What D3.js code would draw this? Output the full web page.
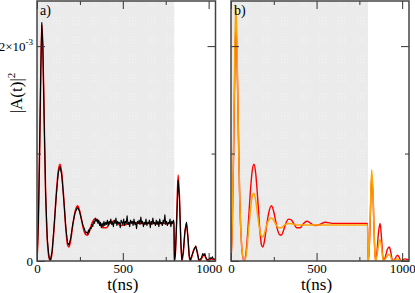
<!DOCTYPE html>
<html>
<head>
<meta charset="utf-8">
<script src="https://cdn.jsdelivr.net/npm/d3@7"></script>
<style>
  body { margin: 0; background: #fff; }
  svg text { font-family: "Liberation Serif", "Times New Roman", "DejaVu Serif", serif; }
</style>
</head>
<body>
<div id="chart"></div>
<script>
// chart values (amplitudes in units of 1e-3)
var tRed = [0, 8, 16, 22, 28, 34, 42, 50, 60, 70, 78, 88, 100, 112, 124, 134, 144, 156, 168, 178, 186, 196, 208, 222, 236, 248, 260, 272, 284, 294, 306, 320, 336, 350, 366, 384, 404, 424, 444, 466, 490, 520, 550, 600, 650, 700, 750, 798, 801, 806, 813, 822, 830, 838, 844, 852, 862, 871, 880, 887, 893, 902, 914, 925, 935, 942, 948, 958, 972, 984, 993, 1002, 1015, 1028, 1040];
var aRed = [0, 0.35, 1.1, 1.75, 2.2, 2.0, 1.3, 0.65, 0.2, 0.03, 0.0, 0.08, 0.32, 0.62, 0.84, 0.9, 0.82, 0.58, 0.3, 0.15, 0.13, 0.19, 0.33, 0.46, 0.515, 0.47, 0.38, 0.29, 0.245, 0.24, 0.28, 0.35, 0.39, 0.385, 0.35, 0.31, 0.31, 0.35, 0.37, 0.35, 0.33, 0.34, 0.36, 0.35, 0.35, 0.35, 0.35, 0.35, 0.0, 0.06, 0.35, 0.8, 0.6, 0.18, 0.0, 0.07, 0.27, 0.35, 0.2, 0.04, 0.0, 0.04, 0.11, 0.13, 0.07, 0.01, 0.0, 0.02, 0.055, 0.03, 0.0, 0.005, 0.02, 0.015, 0.01];

var tBlackHead = [0, 8, 16, 22, 28, 34, 42, 50, 60, 70, 78, 88, 100, 112, 124, 134, 144, 156, 168, 178, 186, 196, 208, 222, 236, 248, 260, 268, 276, 284, 290, 296];
var aBlackHead = [0, 0.37, 1.12, 1.78, 2.22, 2.0, 1.3, 0.64, 0.2, 0.04, 0.01, 0.09, 0.33, 0.6, 0.82, 0.88, 0.8, 0.57, 0.31, 0.17, 0.15, 0.21, 0.34, 0.45, 0.5, 0.46, 0.38, 0.33, 0.3, 0.26, 0.27, 0.25];
// noisy plateau, one value every 5 ns from 300 to 795
var aBlackNoise = [0.29, 0.27, 0.31, 0.3, 0.34, 0.32, 0.37, 0.35, 0.4, 0.37, 0.39, 0.35, 0.38, 0.33, 0.36, 0.31, 0.35, 0.32, 0.37, 0.33, 0.36, 0.34, 0.38, 0.33, 0.37, 0.35, 0.39, 0.34, 0.36, 0.32, 0.38, 0.35, 0.4, 0.33, 0.37, 0.35, 0.36, 0.31, 0.38, 0.36, 0.34, 0.39, 0.33, 0.37, 0.35, 0.42, 0.34, 0.36, 0.32, 0.38, 0.35, 0.37, 0.33, 0.39, 0.34, 0.36, 0.3, 0.37, 0.35, 0.38, 0.34, 0.41, 0.35, 0.37, 0.32, 0.36, 0.34, 0.39, 0.33, 0.36, 0.35, 0.38, 0.31, 0.37, 0.34, 0.4, 0.35, 0.36, 0.33, 0.38, 0.34, 0.37, 0.32, 0.39, 0.35, 0.36, 0.33, 0.38, 0.35, 0.43, 0.34, 0.37, 0.33, 0.36, 0.35, 0.39, 0.32, 0.37, 0.35, 0.38];
var tBlackTail = [798, 800, 806, 813, 822, 830, 838, 844, 852, 862, 871, 880, 887, 893, 902, 914, 925, 935, 942, 948, 958, 966, 972, 978, 984, 993, 1002, 1010, 1015, 1022, 1028, 1040];
var aBlackTail = [0.36, 0.0, 0.06, 0.33, 0.75, 0.58, 0.17, 0.01, 0.08, 0.28, 0.36, 0.21, 0.05, 0.01, 0.05, 0.1, 0.14, 0.07, 0.02, 0.01, 0.03, 0.07, 0.05, 0.07, 0.03, 0.01, 0.02, 0.03, 0.02, 0.04, 0.015, 0.02];

var tOrange = [0, 8, 16, 22, 28, 34, 42, 50, 60, 70, 80, 90, 100, 112, 124, 134, 144, 156, 168, 178, 186, 196, 210, 224, 238, 252, 266, 280, 292, 306, 322, 340, 360, 390, 420, 460, 500, 600, 700, 798, 801, 806, 813, 822, 830, 838, 844, 852, 862, 871, 880, 887, 893, 902, 914, 925, 935, 942, 958, 972, 984, 993, 1040];
var aOrange = [0, 0.4, 1.2, 1.9, 2.38, 2.1, 1.3, 0.65, 0.2, 0.04, 0.0, 0.07, 0.24, 0.45, 0.6, 0.63, 0.57, 0.42, 0.29, 0.23, 0.225, 0.26, 0.34, 0.39, 0.4, 0.37, 0.33, 0.31, 0.31, 0.325, 0.345, 0.35, 0.345, 0.335, 0.335, 0.335, 0.335, 0.335, 0.335, 0.335, 0.0, 0.08, 0.4, 0.85, 0.62, 0.18, 0.0, 0.04, 0.15, 0.2, 0.12, 0.02, 0.0, 0.02, 0.05, 0.06, 0.03, 0.0, 0.01, 0.02, 0.01, 0.0, 0.0];

var xTicks = [0, 500, 1000];
var xMinor = [250, 750];
var shadeEnd = 800;

var serif = '"Liberation Serif", "Times New Roman", "DejaVu Serif", serif';

// build point lists
function pts(ts, as) { return ts.map((t, i) => [t, as[i]]); }
var black = pts(tBlackHead, aBlackHead)
    .concat(aBlackNoise.map((a, i) => [300 + 5 * i, a]))
    .concat(pts(tBlackTail, aBlackTail));
var red = pts(tRed, aRed);
var orange = pts(tOrange, aOrange);

var svgWdt = 415, svgHgt = 293;
var yTop = 1, yBot = 261;

var svg = d3.select("#chart").append("svg")
    .attr("width", svgWdt)
    .attr("height", svgHgt)
    .attr("font-family", serif);

// dotted texture of the shaded block
var defs = svg.append("defs");
var pat = defs.append("pattern")
    .attr("id", "dots")
    .attr("patternUnits", "userSpaceOnUse")
    .attr("x", 15.3).attr("y", 17.5)
    .attr("width", 19).attr("height", 19);
pat.append("rect").attr("width", 19).attr("height", 19).attr("fill", "#ebebeb");
[[0,0],[3,0],[6,0],[0,3],[3,3],[6,3],[0,6],[3,6],[6,6]].forEach(d => {
    pat.append("rect")
        .attr("x", d[0]).attr("y", d[1])
        .attr("width", 1).attr("height", 1)
        .attr("fill", "#fafafa");
});

var yScale = d3.scaleLinear().domain([0, 2.42]).range([yBot, yTop]);

var panels = [
    { left: 37, right: 215.5, label: "a)", series: [[red, "#ff0000", 1.5, true], [black, "#000", 1.1, false]], yLabels: true },
    { left: 231, right: 409, label: "b)", series: [[red, "#ff0000", 1.4, true], [orange, "#ffa500", 1.5, true]], yLabels: false }
];

panels.forEach((p, k) => {
    var xScale = d3.scaleLinear().domain([0, 1040]).range([p.left, p.right]);
    var g = svg.append("g");

    var cid = "clip" + k;
    defs.append("clipPath").attr("id", cid)
        .append("rect")
        .attr("x", p.left).attr("y", yTop)
        .attr("width", p.right - p.left).attr("height", yBot - yTop);

    // shaded region 0..800 ns
    g.append("rect")
        .attr("x", xScale(0)).attr("y", yTop)
        .attr("width", xScale(shadeEnd) - xScale(0))
        .attr("height", yBot - yTop)
        .attr("fill", "url(#dots)");

    // curves
    p.series.forEach(s => {
        var line = d3.line()
            .x(d => xScale(d[0]))
            .y(d => yScale(d[1]))
            .curve(s[3] ? d3.curveMonotoneX : d3.curveLinear);
        g.append("path")
            .datum(s[0])
            .attr("clip-path", `url(#${cid})`)
            .attr("fill", "none")
            .attr("stroke", s[1])
            .attr("stroke-width", s[2])
            .attr("stroke-linejoin", "round")
            .attr("d", line);
    });

    // axes with inward ticks
    g.append("g")
        .attr("transform", `translate(0, ${yBot})`)
        .call(d3.axisBottom(xScale).tickValues(xTicks).tickSize(-8).tickPadding(3).tickFormat(d3.format("d")));
    g.append("g")
        .attr("transform", `translate(0, ${yBot})`)
        .call(d3.axisBottom(xScale).tickValues(xMinor).tickSize(-4).tickFormat(""));
    g.append("g")
        .attr("transform", `translate(0, ${yTop})`)
        .call(d3.axisTop(xScale).tickValues(xTicks).tickSize(-8).tickFormat(""));
    g.append("g")
        .attr("transform", `translate(0, ${yTop})`)
        .call(d3.axisTop(xScale).tickValues(xMinor).tickSize(-4).tickFormat(""));

    g.append("g")
        .attr("transform", `translate(${p.left}, 0)`)
        .call(d3.axisLeft(yScale).tickValues([0, 2]).tickSize(-8).tickPadding(4)
            .tickFormat(d => (p.yLabels && d === 0) ? "0" : ""));
    g.append("g")
        .attr("transform", `translate(${p.left}, 0)`)
        .call(d3.axisLeft(yScale).tickValues([1]).tickSize(-4).tickFormat(""));
    g.append("g")
        .attr("transform", `translate(${p.right}, 0)`)
        .call(d3.axisRight(yScale).tickValues([0, 2]).tickSize(-8).tickFormat(""));
    g.append("g")
        .attr("transform", `translate(${p.right}, 0)`)
        .call(d3.axisRight(yScale).tickValues([1]).tickSize(-4).tickFormat(""));

    g.selectAll(".domain").remove();
    g.selectAll("g").attr("font-family", serif);
    g.selectAll(".tick line").attr("stroke", "#333").attr("stroke-width", 1);
    g.selectAll(".tick text")
        .attr("fill", "#000")
        .attr("font-size", 13);

    // frame
    g.append("rect")
        .attr("x", p.left).attr("y", yTop)
        .attr("width", p.right - p.left).attr("height", yBot - yTop)
        .attr("fill", "none")
        .attr("stroke", "#444")
        .attr("stroke-width", 1.5);

    // panel label
    g.append("text")
        .attr("x", p.left + 3).attr("y", yTop + 14)
        .attr("font-size", 14)
        .text(p.label);

    // x axis title
    g.append("text")
        .attr("x", xScale(500)).attr("y", 290)
        .attr("text-anchor", "middle")
        .attr("font-size", 17)
        .text("t(ns)");

    if (p.yLabels) {
        var lbl = g.append("text")
            .attr("x", p.left - 4).attr("y", yScale(2) + 5)
            .attr("text-anchor", "end")
            .attr("font-size", 13);
        lbl.append("tspan").text("2×10");
        lbl.append("tspan").attr("dy", -6).attr("font-size", 9).text("-3");
    }
});

// y axis title
var yt = svg.append("text")
    .attr("transform", "translate(22, 93) rotate(-90)")
    .attr("text-anchor", "middle")
    .attr("font-size", 17);
yt.append("tspan").text("|A(t)|");
yt.append("tspan").attr("dy", -7).attr("font-size", 11).text("2");
</script>
</body>
</html>
